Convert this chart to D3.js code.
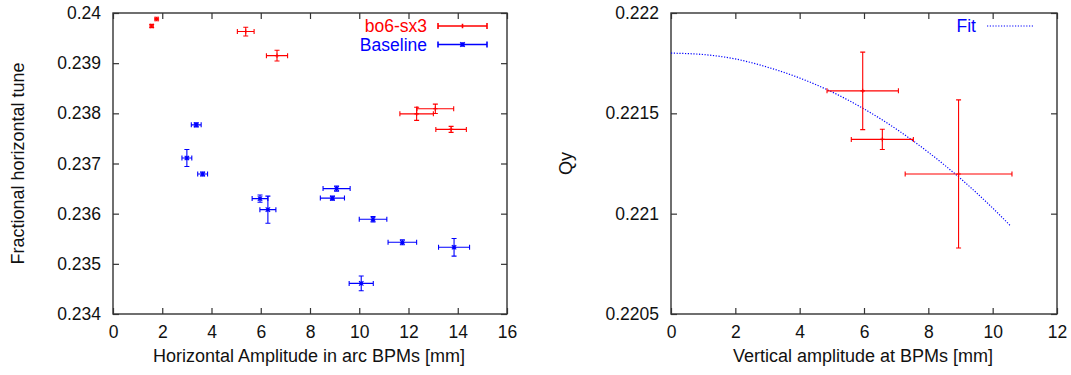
<!DOCTYPE html>
<html>
<head>
<meta charset="utf-8">
<script src="https://cdn.jsdelivr.net/npm/d3@7"></script>
<style>
  body { margin: 0; background: #fff; }
  svg { display: block; font-family: "Liberation Sans", Arial, sans-serif; }
  .axis text { font-size: 17.5px; fill: #111; }
  .axis line { stroke: #333; stroke-width: 1.2; }
  .frame { fill: none; stroke: #333; stroke-width: 1.4; }
  .axis-title { font-size: 18px; fill: #111; }
  .legend-text { font-size: 17.5px; }
</style>
</head>
<body>
<div id="chart"></div>
<script>
// left panel, series "bo6-sx3"
const bo6Amp = [1.57, 1.77, 5.39, 6.66, 12.33, 13.09, 13.73];
const bo6AmpErr = [0.06, 0.06, 0.34, 0.43, 0.68, 0.745, 0.62];
const bo6Tune = [0.23974, 0.23988, 0.23963, 0.23915, 0.23799, 0.23809, 0.23768];
const bo6TuneErr = [0.00003, 0.00002, 0.000087, 0.000106, 0.00013, 0.000093, 0.00006];

// left panel, series "Baseline"
const baseAmp = [3.38, 3.0, 3.64, 5.97, 6.29, 9.08, 8.91, 10.56, 11.75, 13.85, 10.08];
const baseAmpErr = [0.2, 0.2, 0.2, 0.32, 0.325, 0.55, 0.49, 0.56, 0.58, 0.63, 0.49];
const baseTune = [0.23777, 0.23711, 0.23679, 0.2363, 0.23608, 0.2365, 0.23631, 0.23589, 0.23543, 0.23533, 0.23461];
const baseTuneErr = [0.00004, 0.00017, 0.00004, 0.000073, 0.00027, 0.00005, 0.00004, 0.000054, 0.00005, 0.000176, 0.000146];

// right panel, measured Qy
const vAmp = [5.96, 6.57, 8.94];
const vAmpErr = [1.11, 0.965, 1.66];
const qy = [0.221612, 0.22137, 0.221198];
const qyErr = [0.000193, 0.0000506, 0.000369];

// right panel, "Fit" curve
const fitAmp = [0, 1, 2, 3, 4, 5, 6, 7, 8, 9, 10, 10.55];
const fitQy = [0.2218, 0.221793, 0.221771, 0.22173, 0.221676, 0.221607, 0.221522, 0.221422, 0.221306, 0.221175, 0.221028, 0.22094];

// axes
const leftXTicks = [0, 2, 4, 6, 8, 10, 12, 14, 16];
const leftYTicks = [0.234, 0.235, 0.236, 0.237, 0.238, 0.239, 0.24];
const leftYTickLabels = ["0.234", "0.235", "0.236", "0.237", "0.238", "0.239", "0.24"];
const rightXTicks = [0, 2, 4, 6, 8, 10, 12];
const rightYTicks = [0.2205, 0.221, 0.2215, 0.222];
const rightYTickLabels = ["0.2205", "0.221", "0.2215", "0.222"];

const width = 1071;
const height = 375;

const svg = d3
  .select("#chart")
  .append("svg")
  .attr("width", width)
  .attr("height", height);

function toPoints(xs, xe, ys, ye) {
  return xs.map((x, i) => ({ x, xe: xe[i], y: ys[i], ye: ye[i] }));
}

class ErrorBarVis {
  constructor(_svg, _box, _xDomain, _yDomain, _xTicks, _yTicks, _yTickLabels, _xTitle, _yTitle, _yTitleX) {
    this.svg = _svg;
    this.box = _box;
    this.xDomain = _xDomain;
    this.yDomain = _yDomain;
    this.xTicks = _xTicks;
    this.yTicks = _yTicks;
    this.yTickLabels = _yTickLabels;
    this.xTitle = _xTitle;
    this.yTitle = _yTitle;
    this.yTitleX = _yTitleX;
    this.initVis();
  }

  initVis() {
    let vis = this;
    const b = vis.box;

    vis.x = d3.scaleLinear().domain(vis.xDomain).range([b.left, b.right]);
    vis.y = d3.scaleLinear().domain(vis.yDomain).range([b.bottom, b.top]);

    vis.g = vis.svg.append("g");

    const tick = 6;

    vis.g
      .append("g")
      .attr("class", "axis")
      .attr("transform", `translate(0,${b.bottom})`)
      .call(d3.axisBottom(vis.x).tickValues(vis.xTicks).tickSize(-tick).tickPadding(12).tickFormat(d3.format("d")))
      .call((g) => g.select(".domain").remove());

    vis.g
      .append("g")
      .attr("class", "axis")
      .attr("transform", `translate(0,${b.top})`)
      .call(d3.axisTop(vis.x).tickValues(vis.xTicks).tickSize(-tick).tickFormat(""))
      .call((g) => g.select(".domain").remove());

    vis.g
      .append("g")
      .attr("class", "axis")
      .attr("transform", `translate(${b.left},0)`)
      .call(
        d3.axisLeft(vis.y)
          .tickValues(vis.yTicks)
          .tickSize(-tick)
          .tickPadding(12)
          .tickFormat((d, i) => vis.yTickLabels[i])
      )
      .call((g) => g.select(".domain").remove());

    vis.g
      .append("g")
      .attr("class", "axis")
      .attr("transform", `translate(${b.right},0)`)
      .call(d3.axisRight(vis.y).tickValues(vis.yTicks).tickSize(-tick).tickFormat(""))
      .call((g) => g.select(".domain").remove());

    vis.g
      .append("rect")
      .attr("class", "frame")
      .attr("x", b.left)
      .attr("y", b.top)
      .attr("width", b.right - b.left)
      .attr("height", b.bottom - b.top);

    vis.g
      .append("text")
      .attr("class", "axis-title")
      .attr("text-anchor", "middle")
      .attr("x", (b.left + b.right) / 2 - 1)
      .attr("y", 362)
      .text(vis.xTitle);

    vis.g
      .append("text")
      .attr("class", "axis-title")
      .attr("text-anchor", "middle")
      .attr("transform", `translate(${vis.yTitleX},${(b.top + b.bottom) / 2}) rotate(-90)`)
      .attr("dy", "0.35em")
      .text(vis.yTitle);
  }

  // gnuplot style xy error bars with small caps
  drawErrorBars(data, color, marker) {
    let vis = this;
    const cap = 2.5;

    const pt = vis.g
      .append("g")
      .attr("stroke", color)
      .attr("stroke-width", 1.1)
      .attr("fill", "none")
      .selectAll("g")
      .data(data)
      .join("g");

    pt.append("path").attr("d", (d) => {
      const x0 = vis.x(d.x - d.xe);
      const x1 = vis.x(d.x + d.xe);
      const yc = vis.y(d.y);
      const y0 = vis.y(d.y - d.ye);
      const y1 = vis.y(d.y + d.ye);
      const xc = vis.x(d.x);
      return (
        `M${x0},${yc}H${x1}` +
        `M${x0},${yc - cap}V${yc + cap}` +
        `M${x1},${yc - cap}V${yc + cap}` +
        `M${xc},${y0}V${y1}` +
        `M${xc - cap},${y0}H${xc + cap}` +
        `M${xc - cap},${y1}H${xc + cap}`
      );
    });

    pt.append("path").attr("d", (d) => vis.markerPath(vis.x(d.x), vis.y(d.y), marker));
  }

  markerPath(cx, cy, marker) {
    const r = 2.2;
    let p = `M${cx - r},${cy}H${cx + r}M${cx},${cy - r}V${cy + r}`;
    if (marker === "star") {
      p += `M${cx - r},${cy - r}L${cx + r},${cy + r}M${cx - r},${cy + r}L${cx + r},${cy - r}`;
    }
    return p;
  }

  drawLegendEntry(label, color, yc, textRight, x0, x1, marker, dotted) {
    let vis = this;
    const cap = 3;

    vis.g
      .append("text")
      .attr("class", "legend-text")
      .attr("fill", color)
      .attr("text-anchor", "end")
      .attr("x", textRight)
      .attr("y", yc)
      .attr("dy", "0.36em")
      .text(label);

    const lg = vis.g.append("g").attr("stroke", color).attr("fill", "none");

    if (dotted) {
      lg.append("line")
        .attr("x1", x0)
        .attr("x2", x1)
        .attr("y1", yc)
        .attr("y2", yc)
        .attr("stroke-width", 1.2)
        .attr("stroke-dasharray", "1.2,1.6");
      return;
    }

    lg.append("path")
      .attr("stroke-width", 1.6)
      .attr(
        "d",
        `M${x0},${yc}H${x1}M${x0},${yc - cap}V${yc + cap}M${x1},${yc - cap}V${yc + cap}` +
          vis.markerPath((x0 + x1) / 2, yc, marker)
      );
  }

  drawLine(xs, ys, color) {
    let vis = this;
    const line = d3
      .line()
      .x((d) => vis.x(d[0]))
      .y((d) => vis.y(d[1]))
      .curve(d3.curveMonotoneX);

    vis.g
      .append("path")
      .datum(xs.map((x, i) => [x, ys[i]]))
      .attr("fill", "none")
      .attr("stroke", color)
      .attr("stroke-width", 1.2)
      .attr("stroke-dasharray", "1.2,1.6")
      .attr("d", line);
  }
}

const leftVis = new ErrorBarVis(
  svg,
  { left: 113, right: 507, top: 13, bottom: 314 },
  [0, 16],
  [0.234, 0.24],
  leftXTicks,
  leftYTicks,
  leftYTickLabels,
  "Horizontal Amplitude in arc BPMs [mm]",
  "Fractional horizontal tune",
  18
);

leftVis.drawErrorBars(toPoints(bo6Amp, bo6AmpErr, bo6Tune, bo6TuneErr), "#ff0000", "plus");
leftVis.drawErrorBars(toPoints(baseAmp, baseAmpErr, baseTune, baseTuneErr), "#0000ff", "star");
leftVis.drawLegendEntry("bo6-sx3", "#ff0000", 26, 427, 438, 487, "plus", false);
leftVis.drawLegendEntry("Baseline", "#0000ff", 44.5, 427, 438, 487, "star", false);

const rightVis = new ErrorBarVis(
  svg,
  { left: 671, right: 1057, top: 13, bottom: 314 },
  [0, 12],
  [0.2205, 0.222],
  rightXTicks,
  rightYTicks,
  rightYTickLabels,
  "Vertical amplitude at BPMs [mm]",
  "Qy",
  566
);

rightVis.drawLine(fitAmp, fitQy, "#0000ff");
rightVis.drawErrorBars(toPoints(vAmp, vAmpErr, qy, qyErr), "#ff0000", "plus");
rightVis.drawLegendEntry("Fit", "#0000ff", 26, 976, 987, 1034, null, true);
</script>
</body>
</html>
